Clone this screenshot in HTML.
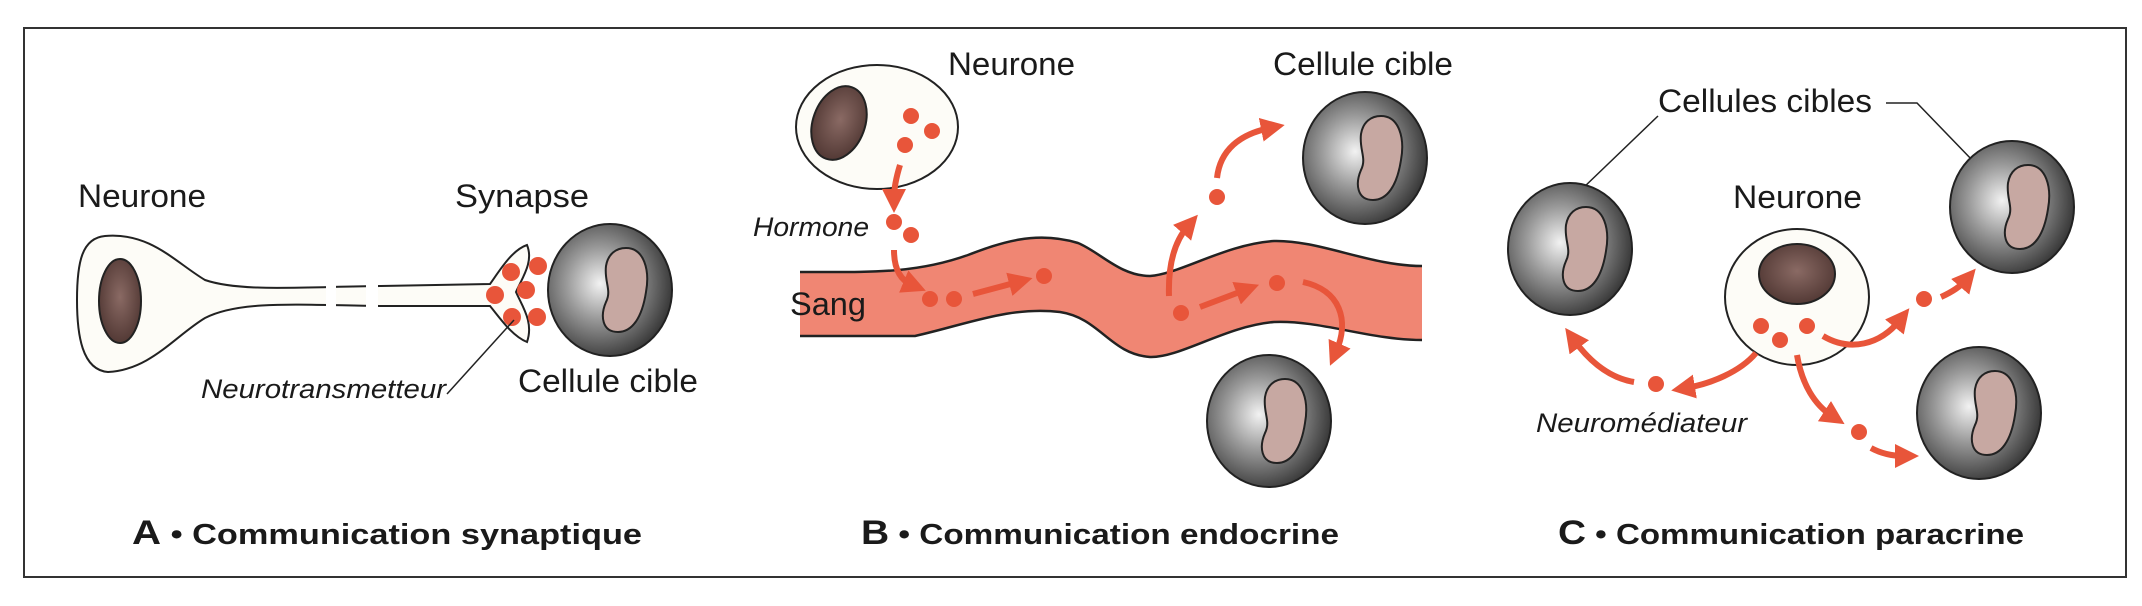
<!DOCTYPE html>
<html><head><meta charset="utf-8"><style>
html,body{margin:0;padding:0;background:#fff;}
svg{display:block;}
text{font-family:"Liberation Sans",Arial,sans-serif;fill:#1a1a1a;}
</style></head><body>
<svg width="2142" height="606" viewBox="0 0 2142 606" xmlns="http://www.w3.org/2000/svg">
<defs>
<radialGradient id="cg" cx="0.42" cy="0.45" r="0.6">
<stop offset="0" stop-color="#f2f2f2"/><stop offset="0.45" stop-color="#9a9a9a"/><stop offset="1" stop-color="#353535"/>
</radialGradient>
<radialGradient id="ng" cx="0.5" cy="0.45" r="0.6">
<stop offset="0" stop-color="#8a6a64"/><stop offset="1" stop-color="#4e3531"/>
</radialGradient>
<marker id="ah" markerWidth="4" markerHeight="4" refX="1.5" refY="2" orient="auto" markerUnits="strokeWidth">
<path d="M0,0 L4,2 L0,4 Z" fill="#e8553a"/>
</marker>
<g id="cell">
<ellipse cx="0" cy="0" rx="62" ry="66" fill="url(#cg)" stroke="#222" stroke-width="2"/>
<path d="M16,-42 C34,-42 40,-20 36,2 C32,28 22,42 8,42 C-8,42 -10,26 -4,12 C2,0 -6,-8 -4,-24 C-2,-36 6,-42 16,-42Z" fill="#c7a8a2" stroke="#222" stroke-width="2"/>
</g>
</defs>
<rect x="24" y="28" width="2102" height="549" fill="none" stroke="#333" stroke-width="2"/>

<!-- Panel A -->
<text x="78" y="207" font-size="32" textLength="128" lengthAdjust="spacingAndGlyphs">Neurone</text>
<text x="455" y="207" font-size="32" textLength="134" lengthAdjust="spacingAndGlyphs">Synapse</text>
<path d="M105,236 C150,232 175,262 205,280 C240,292 300,287 380,286 L490,284 C500,270 512,250 527,245 C534,262 522,278 516,292 C522,306 534,322 527,342 C512,336 500,318 490,306 L380,306 C300,305 240,300 205,318 C175,336 150,370 108,372 C82,370 77,335 77,300 C77,262 82,238 105,236Z" fill="#fdfcf7" stroke="#222" stroke-width="2"/>
<rect x="326" y="278" width="10" height="36" fill="#fff"/>
<rect x="366" y="278" width="12" height="36" fill="#fff"/>
<ellipse cx="120" cy="301" rx="21" ry="42" fill="url(#ng)" stroke="#222" stroke-width="2"/>
<g fill="#e8553a"><circle cx="511" cy="272" r="9"/><circle cx="538" cy="266" r="9"/><circle cx="495" cy="295" r="9"/><circle cx="526" cy="290" r="9"/><circle cx="512" cy="317" r="9"/><circle cx="537" cy="317" r="9"/></g>
<use href="#cell" x="610" y="290"/>
<line x1="447" y1="394" x2="514" y2="320" stroke="#222" stroke-width="1.5"/>
<text x="201" y="398" font-size="27" font-style="italic" textLength="245" lengthAdjust="spacingAndGlyphs">Neurotransmetteur</text>
<text x="518" y="392" font-size="32" textLength="180" lengthAdjust="spacingAndGlyphs">Cellule cible</text>
<text x="132" y="544" font-size="29" font-weight="bold" textLength="510" lengthAdjust="spacingAndGlyphs"><tspan font-size="34" font-weight="900">A</tspan> • Communication synaptique</text>

<!-- Panel B -->
<path d="M800,272 C870,272 915,274 968,255 C1000,243 1035,230 1078,243 C1100,252 1120,276 1150,276 C1180,274 1226,244 1274,241 C1320,240 1370,266 1422,266 L1422,340 C1370,340 1320,320 1274,322 C1226,326 1180,358 1150,357 C1110,354 1100,318 1060,312 C1010,306 968,324 915,336 L800,336Z" fill="#f08673"/>
<path d="M800,272 C870,272 915,274 968,255 C1000,243 1035,230 1078,243 C1100,252 1120,276 1150,276 C1180,274 1226,244 1274,241 C1320,240 1370,266 1422,266" fill="none" stroke="#222" stroke-width="2.5"/>
<path d="M800,336 L915,336 C968,324 1010,306 1060,312 C1100,318 1110,354 1150,357 C1180,358 1226,326 1274,322 C1320,320 1370,340 1422,340" fill="none" stroke="#222" stroke-width="2.5"/>
<text x="790" y="315" font-size="32" textLength="76" lengthAdjust="spacingAndGlyphs">Sang</text>
<ellipse cx="877" cy="127" rx="81" ry="62" fill="#fdfcf7" stroke="#222" stroke-width="2"/>
<ellipse cx="839" cy="123" rx="26" ry="38" transform="rotate(20 839 123)" fill="url(#ng)" stroke="#222" stroke-width="2"/>
<text x="948" y="75" font-size="32" textLength="127" lengthAdjust="spacingAndGlyphs">Neurone</text>
<g fill="#e8553a"><circle cx="911" cy="116" r="8"/><circle cx="932" cy="131" r="8"/><circle cx="905" cy="145" r="8"/>
<circle cx="894" cy="222" r="8"/><circle cx="911" cy="235" r="8"/>
<circle cx="930" cy="299" r="8"/><circle cx="954" cy="299" r="8"/><circle cx="1044" cy="276" r="8"/><circle cx="1181" cy="313" r="8"/><circle cx="1277" cy="283" r="8"/><circle cx="1217" cy="197" r="8"/></g>
<g fill="none" stroke="#e8553a" stroke-width="6" marker-end="url(#ah)">
<path d="M900,165 C896,178 894,188 894,198"/>
<path d="M894,250 C894,268 900,280 912,285"/>
<path d="M973,294 L1018,282"/>
<path d="M1200,307 L1245,290"/>
<path d="M1169,296 C1168,265 1174,242 1188,226"/>
<path d="M1217,178 C1220,150 1240,134 1270,128"/>
<path d="M1303,282 C1340,290 1350,320 1336,352"/>
</g>
<text x="753" y="236" font-size="27" font-style="italic" textLength="116" lengthAdjust="spacingAndGlyphs">Hormone</text>
<use href="#cell" x="1365" y="158"/>
<use href="#cell" x="1269" y="421"/>
<text x="1273" y="75" font-size="32" textLength="180" lengthAdjust="spacingAndGlyphs">Cellule cible</text>
<text x="861" y="544" font-size="29" font-weight="bold" textLength="478" lengthAdjust="spacingAndGlyphs"><tspan font-size="34" font-weight="900">B</tspan> • Communication endocrine</text>

<!-- Panel C -->
<text x="1658" y="112" font-size="32" textLength="214" lengthAdjust="spacingAndGlyphs">Cellules cibles</text>
<polyline points="1886,103 1917,103 1974,162" fill="none" stroke="#222" stroke-width="1.5"/>
<line x1="1658" y1="116" x2="1582" y2="189" stroke="#222" stroke-width="1.5"/>
<use href="#cell" x="1570" y="249"/>
<use href="#cell" x="2012" y="207"/>
<use href="#cell" x="1979" y="413"/>
<text x="1733" y="208" font-size="32" textLength="129" lengthAdjust="spacingAndGlyphs">Neurone</text>
<ellipse cx="1797" cy="297" rx="72" ry="68" fill="#fdfcf7" stroke="#222" stroke-width="2"/>
<ellipse cx="1797" cy="274" rx="38" ry="30" fill="url(#ng)" stroke="#222" stroke-width="2"/>
<g fill="#e8553a"><circle cx="1761" cy="326" r="8"/><circle cx="1780" cy="340" r="8"/><circle cx="1807" cy="326" r="8"/>
<circle cx="1656" cy="384" r="8"/><circle cx="1924" cy="299" r="8"/><circle cx="1859" cy="432" r="8"/></g>
<g fill="none" stroke="#e8553a" stroke-width="6" marker-end="url(#ah)">
<path d="M1756,353 C1740,372 1710,384 1686,388"/>
<path d="M1634,382 C1610,378 1590,362 1574,340"/>
<path d="M1823,336 C1850,352 1880,345 1900,320"/>
<path d="M1941,297 C1952,292 1960,287 1966,280"/>
<path d="M1797,355 C1802,385 1815,405 1832,416"/>
<path d="M1871,448 C1882,454 1892,456 1904,456"/>
</g>
<text x="1536" y="432" font-size="27" font-style="italic" textLength="211" lengthAdjust="spacingAndGlyphs">Neuromédiateur</text>
<text x="1558" y="544" font-size="29" font-weight="bold" textLength="466" lengthAdjust="spacingAndGlyphs"><tspan font-size="34" font-weight="900">C</tspan> • Communication paracrine</text>
</svg>
</body></html>
